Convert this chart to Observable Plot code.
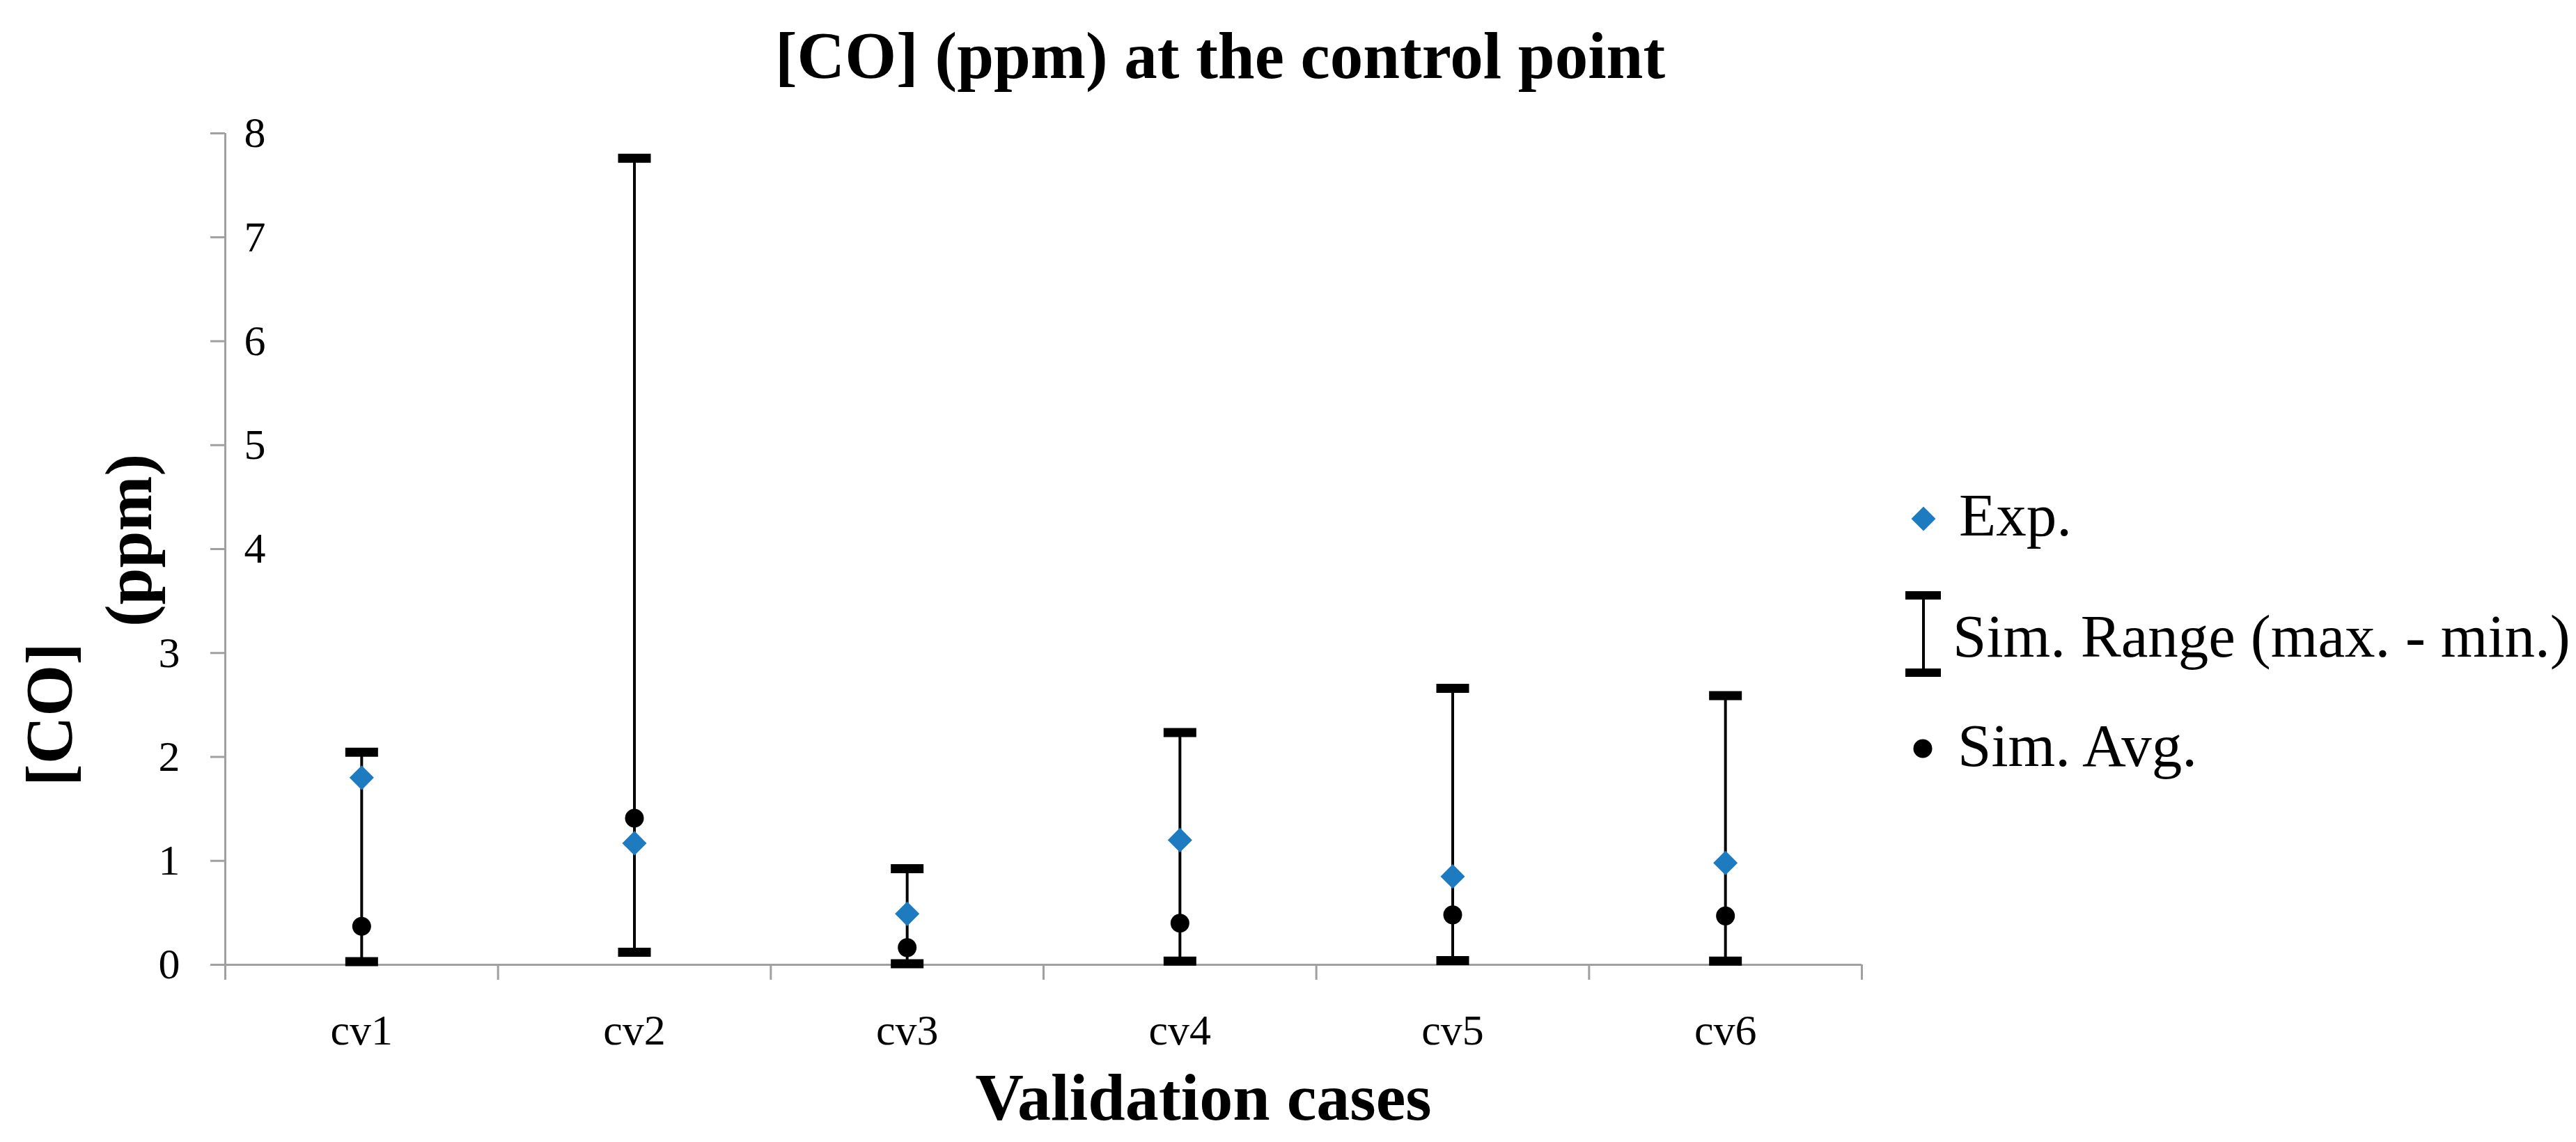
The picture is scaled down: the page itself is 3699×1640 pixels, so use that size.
<!DOCTYPE html>
<html><head><meta charset="utf-8">
<script src="https://cdn.jsdelivr.net/npm/d3@7"></script>
<script src="https://cdn.jsdelivr.net/npm/@observablehq/plot@0.6"></script>
<style>html,body{margin:0;padding:0;background:#fff;} #chart svg{display:block;}</style>
</head><body><div id="chart"></div>
<script>
// ---- data ----
const cases = ["cv1", "cv2", "cv3", "cv4", "cv5", "cv6"];
const expValues = [1.80, 1.17, 0.49, 1.20, 0.85, 0.98];
const simMax = [2.045, 7.76, 0.925, 2.235, 2.66, 2.59];
const simMin = [0.03, 0.12, 0.01, 0.035, 0.04, 0.035];
const simAvg = [0.37, 1.41, 0.165, 0.40, 0.48, 0.47];
const yTicks = [0, 1, 2, 3, 4, 5, 6, 7, 8];
const yTicksLeftLabel = [0, 1, 2, 3];
const yTicksRightLabel = [4, 5, 6, 7, 8];
const titleText = "[CO] (ppm) at the control point";
const xTitle = "Validation cases";
const yTitleLines = ["[CO]", "(ppm)"];
const legendLabels = ["Exp.", "Sim. Range (max. - min.)", "Sim. Avg."];

// ---- styles ----
const FONT = "'Liberation Serif', 'Times New Roman', serif";
const blue = "#1F7BC0";
const axisColor = "#A0A0A0";

const rows = cases.map((c, i) => ({
  label: c, pos: i + 0.5, exp: expValues[i], max: simMax[i], min: simMin[i], avg: simAvg[i]
}));

const capSymbol = {
  draw(context) {
    const w = 23.5, h = 6.5;
    context.moveTo(-w, -h); context.lineTo(w, -h); context.lineTo(w, h); context.lineTo(-w, h); context.closePath();
  }
};

const intFmt = d => String(d);

const chart = Plot.plot({
  width: 3699, height: 1640,
  marginLeft: 323, marginRight: 1026, marginTop: 191, marginBottom: 255,
  x: {type: "linear", domain: [0, cases.length], label: null},
  y: {domain: [0, 8], label: null},
  style: {fontFamily: FONT, background: "white", color: "black"},
  marks: [
    Plot.ruleY([0], {stroke: axisColor, strokeWidth: 3}),
    Plot.ruleX([0], {stroke: axisColor, strokeWidth: 3}),
    Plot.axisY(yTicks, {tickSize: 21, stroke: axisColor, strokeWidth: 3, tickFormat: () => "", label: null}),
    Plot.axisY(yTicksLeftLabel, {tickSize: 0, tickPadding: 65, tickFormat: intFmt, fontSize: 62, fill: "black", label: null}),
    Plot.axisY(yTicksRightLabel, {tickSize: 0, tickPadding: 0, textAnchor: "start", dx: 27, tickFormat: intFmt, fontSize: 62, fill: "black", label: null}),
    Plot.axisX(d3.range(cases.length + 1), {tickSize: 22, stroke: axisColor, strokeWidth: 3, tickFormat: () => "", label: null}),
    Plot.axisX(rows.map(d => d.pos), {tickSize: 0, tickPadding: 70, tickFormat: v => cases[Math.floor(v)], fontSize: 62, fill: "black", label: null}),
    Plot.ruleX(rows, {x: "pos", y1: "min", y2: "max", stroke: "black", strokeWidth: 4}),
    Plot.dot(rows, {x: "pos", y: "max", symbol: capSymbol, fill: "black", r: 5}),
    Plot.dot(rows, {x: "pos", y: "min", symbol: capSymbol, fill: "black", r: 5}),
    Plot.dot(rows, {x: "pos", y: "exp", symbol: "diamond2", fill: blue, r: 15.8}),
    Plot.dot(rows, {x: "pos", y: "avg", symbol: "circle", fill: "black", r: 13.5})
  ]
});

document.getElementById("chart").appendChild(chart);

// ---- titles & legend ----
const svg = d3.select(chart);
const g = svg.append("g").attr("font-family", FONT).attr("fill", "black").attr("text-anchor", "start");

g.append("text").attr("x", 1752).attr("y", 112).attr("text-anchor", "middle")
  .attr("font-weight", "bold").attr("font-size", 95).text(titleText);
g.append("text").attr("x", 1728).attr("y", 1608).attr("text-anchor", "middle")
  .attr("font-weight", "bold").attr("font-size", 96).text(xTitle);
g.append("text").attr("transform", "translate(103,1026) rotate(-90)").attr("text-anchor", "middle")
  .attr("font-weight", "bold").attr("font-size", 95).text(yTitleLines[0]);
g.append("text").attr("transform", "translate(217,776) rotate(-90)").attr("text-anchor", "middle")
  .attr("font-weight", "bold").attr("font-size", 95).text(yTitleLines[1]);

// legend
const lg = g.append("g").attr("text-anchor", "start");
lg.append("path").attr("d", "M2762,727.5L2779.5,745L2762,762.5L2744.5,745Z").attr("fill", blue);
lg.append("text").attr("x", 2813).attr("y", 769).attr("text-anchor", "start").attr("font-size", 87).text(legendLabels[0]);

lg.append("line").attr("x1", 2762).attr("x2", 2762).attr("y1", 855).attr("y2", 966).attr("stroke", "black").attr("stroke-width", 4);
lg.append("rect").attr("x", 2736).attr("y", 849).attr("width", 51).attr("height", 12).attr("fill", "black");
lg.append("rect").attr("x", 2736).attr("y", 960).attr("width", 51).attr("height", 12).attr("fill", "black");
lg.append("text").attr("x", 2804).attr("y", 943).attr("text-anchor", "start").attr("font-size", 87).text(legendLabels[1]);

lg.append("circle").attr("cx", 2761).attr("cy", 1075).attr("r", 13.5).attr("fill", "black");
lg.append("text").attr("x", 2811).attr("y", 1100).attr("text-anchor", "start").attr("font-size", 87).text(legendLabels[2]);
</script>
</body></html>
